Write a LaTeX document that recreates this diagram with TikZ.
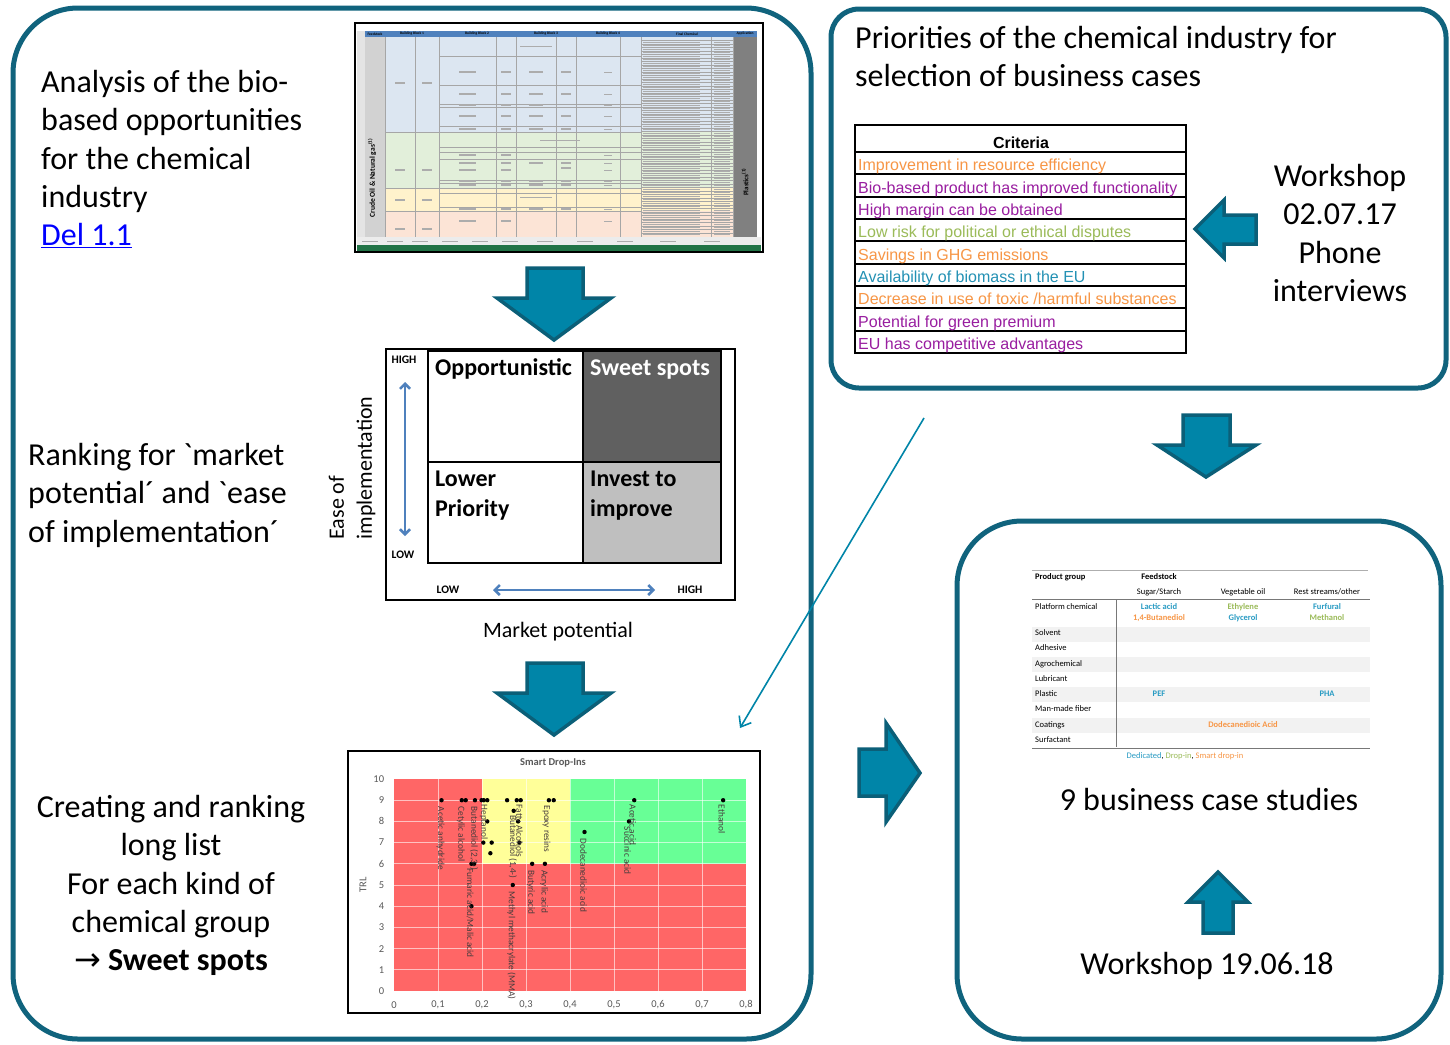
\documentclass[tikz,border=0pt]{standalone}
\usepackage{fontspec}
\setmainfont{Carlito}
\newfontfamily\arialfont{Liberation Sans}
\newfontfamily\arrowfont{DejaVu Sans}
\usetikzlibrary{arrows.meta,positioning,calc}
\definecolor{framecol}{RGB}{16,99,125}
\definecolor{arrowfill}{RGB}{0,133,168}
\definecolor{arrowline}{RGB}{11,95,120}
\definecolor{linkblue}{RGB}{0,0,255}
\definecolor{axisblue}{RGB}{79,129,189}
\definecolor{darkq}{RGB}{96,96,96}
\definecolor{lightq}{RGB}{191,191,191}
\definecolor{critorange}{RGB}{247,150,70}
\definecolor{critpurple}{RGB}{153,30,160}
\definecolor{critgreen}{RGB}{155,187,89}
\definecolor{critblue}{RGB}{35,145,180}
\definecolor{chartred}{RGB}{255,102,102}
\definecolor{chartyellow}{RGB}{255,255,153}
\definecolor{chartgreen}{RGB}{104,255,150}
\definecolor{tickgray}{RGB}{89,89,89}
\definecolor{droptext}{RGB}{70,60,60}
\definecolor{dediblue}{RGB}{40,155,195}
\definecolor{tableshade}{RGB}{242,242,242}
\definecolor{tablerule}{RGB}{120,120,120}
\definecolor{headblue}{RGB}{79,129,189}
\definecolor{bandblue}{RGB}{220,230,241}
\definecolor{bandgreen}{RGB}{226,239,218}
\definecolor{bandyellow}{RGB}{255,242,204}
\definecolor{bandpink}{RGB}{252,228,214}
\definecolor{feedgray}{RGB}{210,210,210}
\definecolor{appgray}{RGB}{128,128,128}
\definecolor{statusgreen}{RGB}{33,115,70}
\tikzstyle{roundframe}=[draw=framecol,line width=5pt]
\tikzstyle{blockarrow}=[fill=arrowfill,draw=arrowline,line width=3.5pt,line join=miter]
\tikzstyle{linkarrow}=[draw=arrowfill,line width=1.6pt,-{Straight Barb[length=9pt,width=14pt]}]
\tikzstyle{bigtext}=[font=\fontsize{32}{38.3}\selectfont,inner sep=0pt]
\tikzstyle{quadlabel}=[font=\fontsize{24}{30}\selectfont\bfseries,inner sep=0pt,align=left]
\tikzstyle{axistext}=[font=\fontsize{22}{28}\selectfont,inner sep=0pt]
\tikzstyle{hilo}=[font=\fontsize{11.5}{13}\selectfont\bfseries,inner sep=0pt]
\tikzstyle{axisarrow}=[draw=axisblue,line width=2.5pt,{Straight Barb[length=5pt,width=10pt]}-{Straight Barb[length=5pt,width=10pt]}]
\tikzstyle{critrow}=[font=\arialfont\fontsize{16}{18}\selectfont,inner sep=0pt,anchor=base west]
\tikzstyle{gridline}=[draw=white,opacity=0.6,line width=1pt]
\tikzstyle{ticklabel}=[font=\fontsize{10.5}{12}\selectfont,text=tickgray,inner sep=0pt]
\tikzstyle{droplabel}=[font=\fontsize{9.3}{10}\selectfont,text=droptext,inner sep=0pt,rotate=-90,anchor=west]
\tikzstyle{tabletext}=[font=\fontsize{8.5}{10}\selectfont,inner sep=0pt]
\tikzstyle{sheetline}=[draw=gray!70,line width=0.4pt]
\tikzstyle{blurtext}=[fill=gray!65]
\tikzstyle{sheethead}=[font=\fontsize{3.6}{4}\selectfont\bfseries,inner sep=0pt]

\begin{document}
\begin{tikzpicture}[x=1pt,y=-1pt]
  \useasboundingbox[fill=white] (0,0) rectangle (1450,1044);

  % frames
  \draw[roundframe,rounded corners=65pt] (13,8) rectangle (811,1039);
  \draw[roundframe,rounded corners=28pt] (831,9) rectangle (1446,388);
  \draw[roundframe,rounded corners=65pt] (957,521) rectangle (1441,1039);

  % spreadsheet picture
  \draw[line width=1.2pt,fill=white] (355,23) rectangle (763,252);
  \fill[feedgray!60] (357,31) rectangle (365,237);
  \fill[headblue] (365,31) rectangle (757,37);
  \foreach \hx/\htxt in {375/Feedstock,412/Building Block 1,477/Building Block 2,546/Building Block 3,608/Building Block 4,687/Final Chemical,745/Application}
    \node[sheethead] at (\hx,34) {\htxt};
  \fill[bandblue] (385,37) rectangle (733,132);
  \fill[bandgreen] (385,132) rectangle (733,188);
  \fill[bandyellow] (385,188) rectangle (733,211);
  \fill[bandpink] (385,211) rectangle (733,237);
  \fill[feedgray] (365,37) rectangle (385,237);
  \fill[appgray] (733,37) rectangle (757,237);
  \foreach \ry in {40.6,44.1,...,236}
    \draw[sheetline] (641,\ry) -- (733,\ry);
  \foreach \ry in {42.4,45.9,...,235} {
    \fill[blurtext] (643,\ry-0.5) rectangle (700,\ry+0.5);
    \fill[blurtext] (714,\ry-0.5) rectangle (730,\ry+0.5);
  }
  \foreach \cx in {385,415,439,496,516,556,576,620,641,711,733}
    \draw[sheetline] (\cx,37) -- (\cx,237);
  \foreach \ry in {56,85,104,107,126,132,147,152,159,180,183,188,193,207,211}
    \draw[sheetline] (439,\ry) -- (641,\ry);
  \foreach \ry in {132,188,211}
    \draw[sheetline] (385,\ry) -- (439,\ry);
  \foreach \by in {72,94,105,116,129,155,163,170,181,185,209,221} {
    \fill[blurtext] (459,\by-0.6) rectangle (476,\by+0.6);
    \fill[blurtext] (501,\by-0.6) rectangle (511,\by+0.6);
    \fill[blurtext] (604,\by-0.5) rectangle (612,\by+0.5);
  }
  \foreach \by in {72,94,105,116,129,163,181,185,209}
    \fill[blurtext] (529,\by-0.6) rectangle (543,\by+0.6);
  \foreach \by in {72,94,116,129,163,168,181,185,209}
    \fill[blurtext] (561,\by-0.6) rectangle (571,\by+0.6);
  \foreach \by in {83,170,200,229} {
    \fill[blurtext] (395,\by-0.6) rectangle (405,\by+0.6);
    \fill[blurtext] (422,\by-0.6) rectangle (432,\by+0.6);
  }
  \fill[blurtext] (520,46) rectangle (552,47);
  \fill[blurtext] (540,140) rectangle (580,141);
  \fill[blurtext] (520,197) rectangle (552,198);
  \node[font=\fontsize{7.5}{8}\selectfont\bfseries,rotate=90,inner sep=0pt] (feedname) at (372,178) {Crude Oil \& Natural gas\textsuperscript{(1)}};
  \node[font=\fontsize{7}{8}\selectfont\bfseries,rotate=90,inner sep=0pt] (appname) at (745,182) {Plastics\textsuperscript{(1)}};
  \fill[gray!15] (357,237) rectangle (761,245);
  \foreach \tx in {370,395,420,450,480,510,545,585,625,668,712}
    \fill[blurtext] (\tx-8,240.6) rectangle (\tx+8,241.4);
  \fill[statusgreen] (357,245) rectangle (761,251);

  % block arrows
  \draw[blockarrow] (527,268) -- (583,268) -- (583,298) -- (611,298) -- (554,340) -- (497,298) -- (527,298) -- cycle;
  \draw[blockarrow] (527,663) -- (583,663) -- (583,693) -- (611,693) -- (554,735) -- (497,693) -- (527,693) -- cycle;
  \draw[blockarrow] (1183,415) -- (1230,415) -- (1230,445) -- (1256,445) -- (1206,477) -- (1157,445) -- (1183,445) -- cycle;
  \draw[blockarrow] (1256,215) -- (1256,244) -- (1224,244) -- (1224,258) -- (1195,229) -- (1224,200) -- (1224,215) -- cycle;
  \draw[blockarrow] (859,749) -- (886,749) -- (886,723) -- (920,773) -- (886,822) -- (886,796) -- (859,796) -- cycle;
  \draw[blockarrow] (1203,933) -- (1203,902) -- (1188,902) -- (1218,872) -- (1248,902) -- (1233,902) -- (1233,933) -- cycle;

  \coordinate (linkstart) at (924,418);
  \coordinate (linkend) at (740,728);
  \draw[linkarrow] (linkstart) -- (linkend);

  % texts
  \node[bigtext,anchor=north west,align=left] (analysis) at (41,70)
    {Analysis of the bio-\\based opportunities\\for the chemical\\industry\\\textcolor{linkblue}{\underline{Del 1.1}}};
  \node[bigtext,anchor=north west,align=left] (ranking) at (28,443)
    {Ranking for \textasciigrave market\\potential\textasciiacute{} and \textasciigrave ease\\of implementation\textasciiacute};
  \node[bigtext,anchor=north,align=center] (creating) at (171,795)
    {Creating and ranking\\long list\\For each kind of\\chemical group\\{\arrowfont →} \textbf{Sweet spots}};
  \node[bigtext,anchor=north west,align=left] (priorities) at (855,26)
    {Priorities of the chemical industry for\\selection of business cases};
  \node[bigtext,anchor=north,align=center] (workshopA) at (1340,164)
    {Workshop\\02.07.17\\Phone\\interviews};
  \node[bigtext,anchor=base] (cases) at (1209,810) {9 business case studies};
  \node[bigtext,anchor=base] (workshopB) at (1207,974) {Workshop 19.06.18};

  % ranking matrix
  \draw[line width=2pt] (386,349) rectangle (735,600);
  \fill[darkq] (583,351) rectangle (721,462);
  \fill[lightq] (583,462) rectangle (721,563);
  \draw[line width=2.2pt] (428,351) rectangle (721,563);
  \draw[line width=2.2pt] (583,351) -- (583,563);
  \draw[line width=2.2pt] (428,462) -- (721,462);
  \node[quadlabel,anchor=base west] (opport) at (435,375) {Opportunistic};
  \node[quadlabel,anchor=base west,text=white] (sweet) at (590,375) {Sweet spots};
  \node[quadlabel,anchor=north west] (lower) at (435,471) {Lower\\Priority};
  \node[quadlabel,anchor=north west] (invest) at (590,471) {Invest to\\improve};
  \node[hilo] (easehigh) at (404,360) {HIGH};
  \node[hilo] (easelow) at (403,555) {LOW};
  \node[hilo] (marketlow) at (448,590) {LOW};
  \node[hilo] (markethigh) at (690,590) {HIGH};
  \coordinate (easetop) at (405,382);
  \coordinate (easebottom) at (405,536);
  \coordinate (marketleft) at (493,590);
  \coordinate (marketright) at (655,590);
  \draw[axisarrow] (easetop) -- (easebottom);
  \draw[axisarrow] (marketleft) -- (marketright);
  \node[axistext,anchor=base] (market) at (558,637) {Market potential};
  \node[axistext,align=left,rotate=90] (ease) at (352,468) {Ease of\\implementation};

  % criteria table
  \draw[line width=2.5pt] (855,125) rectangle (1186,353);
  \node[font=\arialfont\bfseries\fontsize{16}{18}\selectfont,inner sep=0pt,anchor=base] (crithead) at (1021,148) {Criteria};
  \foreach \i in {0,...,8}
    \draw[line width=2pt] (855,{152+\i*22.33}) -- (1186,{152+\i*22.33});
  \foreach \txt/\col [count=\i] in {{Improvement in resource efficiency}/critorange,
      {Bio-based product has improved functionality}/critpurple,
      {High margin can be obtained}/critpurple,
      {Low risk for political or ethical disputes}/critgreen,
      {Savings in GHG emissions}/critorange,
      {Availability of biomass in the EU}/critblue,
      {Decrease in use of toxic /harmful substances}/critorange,
      {Potential for green premium}/critpurple,
      {EU has competitive advantages}/critpurple}
    \node[critrow,text=\col] (crit\i) at (858,{152+\i*22.33-3.5}) {\txt};

  % smart drop-ins chart
  \draw[line width=1.3pt] (348,751) rectangle (760,1013);
  \node[font=\fontsize{10.5}{12}\selectfont\bfseries,text=tickgray,inner sep=0pt] (charttitle) at (553,763) {Smart Drop-Ins};
  \node[ticklabel,rotate=90] (trl) at (363,885) {TRL};
  \begin{scope}[shift={(394,991)},x=440pt,y=21.2pt]
    \fill[chartred] (0,0) rectangle (0.8,10);
    \fill[chartyellow] (0.2,6) rectangle (0.4,10);
    \fill[chartgreen] (0.4,6) rectangle (0.8,10);
    \foreach \i in {1,...,7}
      \draw[gridline] (\i/10,0) -- (\i/10,10);
    \foreach \j in {1,...,9}
      \draw[gridline] (0,\j) -- (0.8,\j);
    \foreach \j in {0,...,10}
      \node[ticklabel,anchor=east] at (-0.022,\j) {\j};
    \foreach \i in {0,...,8}
      \node[ticklabel] at (\i/10,-0.66) {\ifnum\i=0 0\else 0,\i\fi};
    \foreach \px/\py in {0.108/9,0.154/9,0.163/9,0.184/9,0.199/9,0.204/9,0.212/9,0.212/8,0.203/7,0.222/7,0.219/6.5,0.176/6,0.182/6,0.176/4,0.257/9,0.279/9,0.288/9,0.272/8.5,0.282/8,0.285/7,0.270/5,0.314/6,0.343/6,0.352/9,0.363/9,0.433/7.5,0.546/9,0.534/8,0.748/9}
      \fill (\px,\py) circle (2.2pt);
    \foreach \lx/\ly/\ltxt in {0.106/8.7/{Acetic anhydride},0.152/8.7/{Cetylic alcohol},0.182/8.7/{Butanediol (2,3-)},
        0.204/8.8/{Heptanol},0.173/5.8/{Fumaric acid/Malic acid},0.284/8.8/{Fatty Alcohols},
        0.270/8.3/{Butanediol (1,4-)},0.267/4.7/{Methyl methacrylate (MMA)},0.311/5.7/{Butyric acid},
        0.341/5.7/{Acrylic acid},0.347/8.75/{Epoxy resins},0.431/7.2/{Dodecanedioic acid},
        0.543/8.8/{Acetic acid},0.531/7.75/{Succinic acid},0.745/8.8/{Ethanol}}
      \node[droplabel] at (\lx,\ly) {\ltxt};
  \end{scope}

  % business case table
  \foreach \sy in {627,657,687,718}
    \fill[tableshade] (1032,\sy) rectangle (1370,\sy+15);
  \draw[tablerule!60,line width=0.8pt] (1032,570) -- (1368,570);
  \draw[tablerule,line width=1pt] (1032,599) -- (1370,599);
  \draw[tablerule,line width=1pt] (1116,599) -- (1116,747);
  \draw[tablerule,line width=1pt] (1032,748) -- (1370,748);
  \node[tabletext,anchor=west,font=\fontsize{8.5}{10}\selectfont\bfseries] (prodgroup) at (1035,577) {Product group};
  \node[tabletext,font=\fontsize{8.5}{10}\selectfont\bfseries] (feedstock) at (1159,577) {Feedstock};
  \node[tabletext] (sugar) at (1159,592) {Sugar/Starch};
  \node[tabletext] (vegoil) at (1243,592) {Vegetable oil};
  \node[tabletext] (rest) at (1327,592) {Rest streams/other};
  \foreach \rtxt/\ry [count=\k] in {Platform chemical/607,Solvent/633,Adhesive/648,Agrochemical/664,Lubricant/679,Plastic/694,Man-made fiber/709,Coatings/725,Surfactant/740}
    \node[tabletext,anchor=west] (group\k) at (1035,\ry) {\rtxt};
  \begin{scope}[every node/.style={tabletext,font=\fontsize{8.5}{10}\selectfont\bfseries}]
    \node[text=dediblue] (lactic) at (1159,607) {Lactic acid};
    \node[text=critorange] (butanediol) at (1159,618) {1,4-Butanediol};
    \node[text=critgreen] (ethylene) at (1243,607) {Ethylene};
    \node[text=dediblue] (glycerol) at (1243,618) {Glycerol};
    \node[text=dediblue] (furfural) at (1327,607) {Furfural};
    \node[text=critgreen] (methanol) at (1327,618) {Methanol};
    \node[text=dediblue] (pef) at (1159,694) {PEF};
    \node[text=dediblue] (pha) at (1327,694) {PHA};
    \node[text=critorange] (dodecane) at (1243,725) {Dodecanedioic Acid};
  \end{scope}
  \node[tabletext] (legend) at (1185,756)
    {\textcolor{dediblue}{Dedicated}, \textcolor{critgreen}{Drop-in}, \textcolor{critorange}{Smart drop-in}};
\end{tikzpicture}
\end{document}
